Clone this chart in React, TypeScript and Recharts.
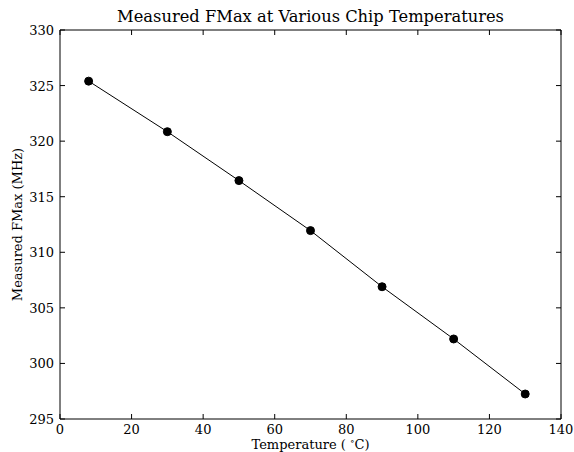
import React from "react";
import { LineChart, Line, XAxis, YAxis } from "recharts";

const temperatures = [8, 30, 50, 70, 90, 110, 130];
const fmax = [325.4, 320.85, 316.45, 311.95, 306.9, 302.2, 297.25];
const xTicks = [0, 20, 40, 60, 80, 100, 120, 140];
const yTicks = [295, 300, 305, 310, 315, 320, 325, 330];

const data = temperatures.map((t, i) => ({ t, f: fmax[i] }));

const FONT = "'DejaVu Serif', serif";
const TS = 6;

const BottomTick = (p: any) => {
  const ay = p.y - TS;
  return (
    <g>
      <line x1={p.x} y1={ay} x2={p.x} y2={ay - 5} stroke="#000" strokeWidth={1} />
      <text x={p.x} y={ay + 15} textAnchor="middle" fontSize={13} fontFamily={FONT} fill="#000">
        {p.payload.value}
      </text>
    </g>
  );
};
const TopTick = (p: any) => {
  const ay = p.y + TS;
  return <line x1={p.x} y1={ay} x2={p.x} y2={ay + 5} stroke="#000" strokeWidth={1} />;
};
const LeftTick = (p: any) => {
  const ax = p.x + TS;
  return (
    <g>
      <line x1={ax} y1={p.y} x2={ax + 5} y2={p.y} stroke="#000" strokeWidth={1} />
      <text x={ax - 6} y={p.y + 5} textAnchor="end" fontSize={13} fontFamily={FONT} fill="#000">
        {p.payload.value}
      </text>
    </g>
  );
};
const RightTick = (p: any) => {
  const ax = p.x - TS;
  return <line x1={ax} y1={p.y} x2={ax - 5} y2={p.y} stroke="#000" strokeWidth={1} />;
};

export default function App() {
  return (
    <div style={{ position: "absolute", left: 0, top: 0, width: 574, height: 452, background: "#fff" }}>
      <svg width={574} height={452} style={{ position: "absolute", left: 0, top: 0, pointerEvents: "none" }}>
        <text x={310.5} y={22} textAnchor="middle" fontSize={16.3} fontFamily={FONT} fill="#000">
          Measured FMax at Various Chip Temperatures
        </text>
        <text x={310.5} y={449} textAnchor="middle" fontSize={13} fontFamily={FONT} fill="#000">
          Temperature ( <tspan fontSize={9} dy={-5}>∘</tspan><tspan dy={5}>C)</tspan>
        </text>
        <text
          x={22}
          y={224.5}
          textAnchor="middle"
          fontSize={13}
          fontFamily={FONT}
          fill="#000"
          transform="rotate(-90 22 224.5)"
        >
          Measured FMax (MHz)
        </text>
      </svg>
      <div style={{ position: "absolute", left: 0, top: 0 }}>
        <LineChart
          width={574}
          height={452}
          data={data}
          margin={{ top: 29, right: 12, bottom: 0, left: 0 }}
        >
          <XAxis
            dataKey="t"
            type="number"
            domain={[0, 140]}
            ticks={xTicks}
            interval={0}
            height={33}
            tickSize={TS}
            tickMargin={0}
            tickLine={false}
            axisLine={{ stroke: "#000", strokeWidth: 1 }}
            tick={<BottomTick />}
            allowDataOverflow
          />
          <XAxis
            xAxisId="top"
            orientation="top"
            dataKey="t"
            type="number"
            domain={[0, 140]}
            ticks={xTicks}
            interval={0}
            height={1}
            tickSize={TS}
            tickMargin={0}
            tickLine={false}
            axisLine={{ stroke: "#000", strokeWidth: 1 }}
            tick={<TopTick />}
            allowDataOverflow
          />
          <YAxis
            type="number"
            domain={[295, 330]}
            ticks={yTicks}
            interval={0}
            width={60}
            tickSize={TS}
            tickMargin={0}
            tickLine={false}
            axisLine={{ stroke: "#000", strokeWidth: 1 }}
            tick={<LeftTick />}
            allowDataOverflow
          />
          <YAxis
            yAxisId="right"
            orientation="right"
            type="number"
            domain={[295, 330]}
            ticks={yTicks}
            interval={0}
            width={1}
            tickSize={TS}
            tickMargin={0}
            tickLine={false}
            axisLine={{ stroke: "#000", strokeWidth: 1 }}
            tick={<RightTick />}
            allowDataOverflow
          />
          <Line
            dataKey="f"
            stroke="#000"
            strokeWidth={1}
            dot={{ r: 4, fill: "#000", stroke: "#000", strokeWidth: 1 }}
            isAnimationActive={false}
          />
        </LineChart>
      </div>
    </div>
  );
}
